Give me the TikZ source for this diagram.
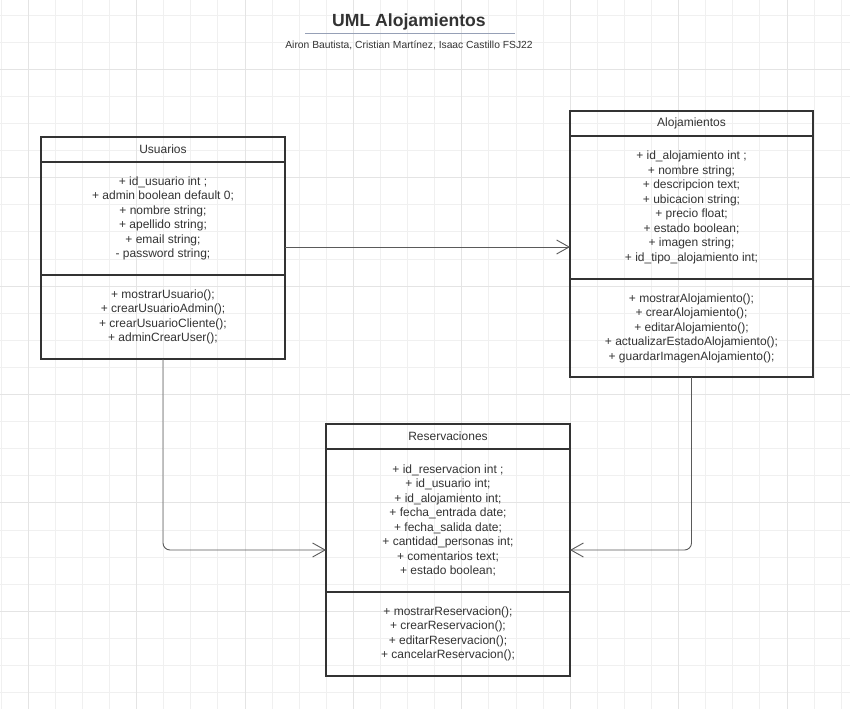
\documentclass[tikz,border=0pt]{standalone}
\usepackage{fontspec}
\setmainfont{Liberation Sans}
\usetikzlibrary{positioning, arrows.meta}

\definecolor{umlline}{HTML}{333333}
\definecolor{umltext}{HTML}{333333}
\definecolor{linkline}{HTML}{5A5A5A}
\definecolor{gridminor}{HTML}{F0F0F0}
\definecolor{gridmajor}{HTML}{E4E4E4}
\definecolor{titlerule}{RGB}{150,160,182}

\begin{document}
\begin{tikzpicture}[
    x=1pt, y=-1pt,
    classhead/.style={draw=umlline, line width=1.2pt, minimum width=244pt,
        minimum height=25pt, inner sep=0pt, outer sep=0pt, text=umltext,
        font=\fontsize{12}{14.5}\selectfont},
    classbody/.style={classhead, align=center},
    assoc/.style={draw=linkline, line width=0.9pt,
        -{Straight Barb[length=12.5pt, width=14pt]}},
    gridline/.style={draw=gridminor, line width=0.8pt},
    gridmain/.style={draw=gridmajor, line width=0.8pt}
]
    \useasboundingbox (0,0) rectangle (850,709);
    \fill[white] (0,0) rectangle (850,709);

    % background grid
    \foreach \k in {0,...,31} \draw[gridline] (1+27.1*\k,0) -- (1+27.1*\k,709);
    \foreach \k in {0,...,25} \draw[gridline] (0,15+27.1*\k) -- (850,15+27.1*\k);
    \foreach \k in {0,...,7} \draw[gridmain] (28.1+108.4*\k,0) -- (28.1+108.4*\k,709);
    \foreach \k in {0,...,5} \draw[gridmain] (0,69.2+108.4*\k) -- (850,69.2+108.4*\k);

    % title
    \node[anchor=base, text=umltext, font=\bfseries\fontsize{17.6}{20}\selectfont]
        (title) at (409,26.6) {UML Alojamientos};
    \draw[titlerule, line width=1pt] (305,33.5) -- (515,33.5);
    \node[anchor=base, text=umltext, font=\fontsize{10.3}{12}\selectfont]
        (authors) at (409,48.3) {Airon Bautista, Cristian Martínez, Isaac Castillo FSJ22};

    % Usuarios
    \node[classhead, anchor=north west] (usrHead) at (41,137) {Usuarios};
    \node[classbody, minimum height=113pt, below=0pt of usrHead] (usrAttr)
        {+ id\_usuario int ;\\ + admin boolean default 0;\\ + nombre string;\\
         + apellido string;\\ + email string;\\ - password string;};
    \node[classbody, minimum height=84pt, below=0pt of usrAttr] (usrMeth)
        {+ mostrarUsuario();\\ + crearUsuarioAdmin();\\ + crearUsuarioCliente();\\
         + adminCrearUser();};

    % Alojamientos
    \node[classhead, minimum width=243pt, anchor=north west] (aloHead) at (570,111) {Alojamientos};
    \node[classbody, minimum width=243pt, minimum height=143pt, below=0pt of aloHead] (aloAttr)
        {+ id\_alojamiento int ;\\ + nombre string;\\ + descripcion text;\\
         + ubicacion string;\\ + precio float;\\ + estado boolean;\\
         + imagen string;\\ + id\_tipo\_alojamiento int;};
    \node[classbody, minimum width=243pt, minimum height=98pt, below=0pt of aloAttr] (aloMeth)
        {+ mostrarAlojamiento();\\ + crearAlojamiento();\\ + editarAlojamiento();\\
         + actualizarEstadoAlojamiento();\\ + guardarImagenAlojamiento();};

    % Reservaciones
    \node[classhead, anchor=north west] (resHead) at (326,424) {Reservaciones};
    \node[classbody, minimum height=143pt, below=0pt of resHead] (resAttr)
        {+ id\_reservacion int ;\\ + id\_usuario int;\\ + id\_alojamiento int;\\
         + fecha\_entrada date;\\ + fecha\_salida date;\\ + cantidad\_personas int;\\
         + comentarios text;\\ + estado boolean;};
    \node[classbody, minimum height=84pt, below=0pt of resAttr] (resMeth)
        {+ mostrarReservacion();\\ + crearReservacion();\\ + editarReservacion();\\
         + cancelarReservacion();};

    % associations
    \coordinate (usrOut) at ([yshift=28pt]usrAttr.south east);
    \coordinate (resIn) at ([yshift=-29.5pt]resAttr.west);
    \draw[assoc] (usrOut) -- (usrOut -| aloAttr.west);
    \draw[assoc, rounded corners=7pt] (usrMeth.south) |- (resIn);
    \draw[assoc, rounded corners=7pt] (aloMeth.south) |- (resIn -| resAttr.east);
\end{tikzpicture}
\end{document}
